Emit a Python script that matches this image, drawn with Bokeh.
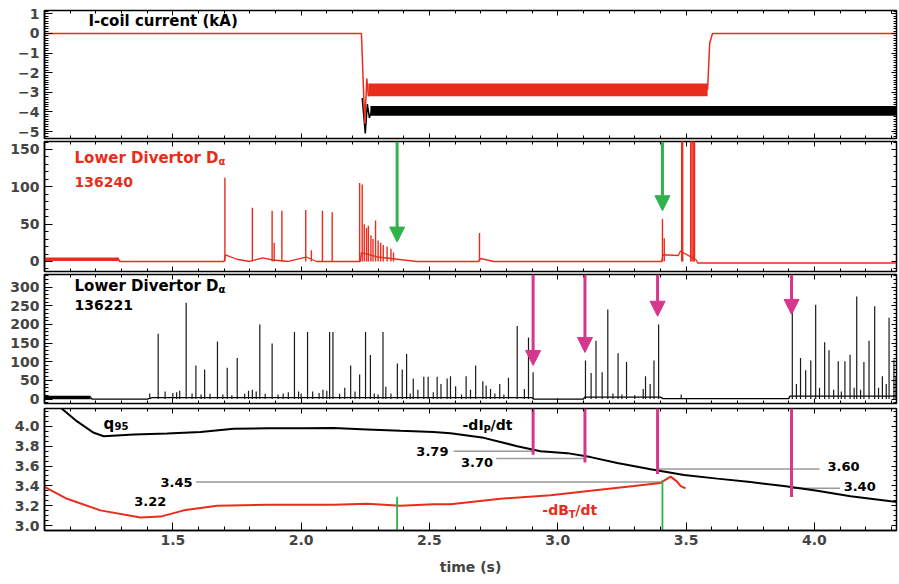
from bokeh.plotting import figure
from bokeh.layouts import column
from bokeh.models import (Range1d, LinearAxis, SingleIntervalTicker, FixedTicker,
                          ColumnDataSource, Arrow, NormalHead, PrintfTickFormatter,
                          CustomJSTickFormatter, Grid)
from bokeh.core.properties import value
from bokeh.embed import file_html
from bokeh.resources import INLINE

# ---------------- data ----------------
x_ticks = [1.5, 2.0, 2.5, 3.0, 3.5, 4.0]
x_minor = [1.1, 1.2, 1.3, 1.4, 1.6, 1.7, 1.8, 1.9, 2.1, 2.2, 2.3, 2.4, 2.6, 2.7, 2.8, 2.9,
           3.1, 3.2, 3.3, 3.4, 3.6, 3.7, 3.8, 3.9, 4.1, 4.2, 4.3]

# panel 1: I-coil current (kA)
icoil_red_t = [1.0, 2.235, 2.248, 2.256, 2.262, 2.27, 3.584, 3.592, 3.603, 4.32]
icoil_red_v = [0, 0, -4.6, -2.3, -3.2, -2.85, -2.85, -0.5, 0, 0]
icoil_red_band_t = [2.262, 3.584]
icoil_red_band_hi = [-2.55, -2.55]
icoil_red_band_lo = [-3.2, -3.2]
icoil_blk_t = [2.238, 2.25, 2.258, 2.266, 2.275, 4.32]
icoil_blk_v = [-3.3, -5.1, -3.6, -4.3, -3.95, -3.95]
icoil_blk_band_t = [2.27, 4.32]
icoil_blk_band_hi = [-3.7, -3.7]
icoil_blk_band_lo = [-4.2, -4.2]

# panel 2: lower divertor D-alpha, shot 136240
da1_noise_t = [1.0, 1.29]
da1_noise_v = [3, 3]
da1_base_t = [1.29, 1.292, 1.70, 1.705, 1.75, 1.80, 1.85, 1.89, 1.95, 2.02, 2.06, 2.23, 2.235,
              2.30, 2.40, 2.45, 2.69, 2.70, 2.75, 3.405, 3.41, 3.47, 3.478, 3.54, 3.545, 4.32]
da1_base_v = [3, 0, 0, 9, 3, 0, 5, 2, 0, 6, 0, 0, 12, 6, 2, 0, 0, 4, 0, 0, 9, 8, 14, 2, -2, -2]
da1_spk_t = [1.703, 1.81, 1.887, 1.895, 1.925, 2.018, 2.04, 2.083, 2.121, 2.228, 2.238,
             2.246, 2.255, 2.262, 2.272, 2.28, 2.29, 2.30, 2.31, 2.32, 2.335, 2.35, 2.36,
             2.695, 3.408, 3.415, 3.483, 3.487, 3.518, 3.523, 3.528, 3.533]
da1_spk_h = [112, 72, 68, 25, 68, 69, 15, 68, 66, 105, 103, 50, 45, 48, 35, 30, 55, 28,
             25, 22, 20, 17, 12, 38, 57, 31, 170, 170, 170, 170, 170, 170]

# panel 3: lower divertor D-alpha, shot 136221
da2_noise_t = [1.0, 1.18]
da2_noise_v = [4, 4]
da2_base_t = [1.18, 1.185, 1.40, 1.42, 2.90, 2.905, 3.10, 3.105, 3.40, 3.41, 3.90, 3.905, 4.32]
da2_base_v = [4, 0, 0, 4, 4, 0, 0, 5, 5, 1, 1, 8, 8]
da2_spk_t = [1.41, 1.443, 1.47, 1.50, 1.515, 1.527, 1.552, 1.575, 1.59, 1.61, 1.624, 1.645,
             1.674, 1.695, 1.712, 1.73, 1.751, 1.78, 1.795, 1.81, 1.825, 1.839, 1.86, 1.887,
             1.91, 1.93, 1.95, 1.974, 1.99, 2.0, 2.025, 2.045, 2.07, 2.085, 2.1, 2.111, 2.124,
             2.15, 2.17, 2.193, 2.21, 2.228, 2.251, 2.27, 2.285, 2.30, 2.319, 2.33, 2.35,
             2.375, 2.394, 2.411, 2.425, 2.437, 2.455, 2.478, 2.495, 2.515, 2.53, 2.545,
             2.569, 2.582, 2.602, 2.625, 2.643, 2.66, 2.68, 2.708, 2.721, 2.738, 2.755,
             2.774, 2.79, 2.808, 2.842, 2.87, 2.886, 2.904, 3.108, 3.13, 3.149, 3.173, 3.195,
             3.215, 3.235, 3.25, 3.268, 3.30, 3.333, 3.342, 3.36, 3.375, 3.393, 3.481, 3.914,
             3.93, 3.946, 3.966, 3.986, 4.005, 4.02, 4.04, 4.057, 4.075, 4.093, 4.105, 4.119,
             4.139, 4.155, 4.165, 4.18, 4.193, 4.213, 4.235, 4.25, 4.265, 4.28, 4.291, 4.31,
             4.318]
da2_spk_h = [15, 175, 20, 16, 18, 22, 258, 15, 90, 12, 79, 14,
             154, 12, 84, 10, 110, 14, 22, 25, 20, 200, 14, 149,
             12, 15, 18, 180, 20, 15, 180, 20, 16, 25, 22, 180, 180,
             14, 30, 90, 20, 66, 180, 118, 15, 12, 180, 33, 15,
             95, 79, 121, 15, 55, 25, 60, 60, 18, 60, 40,
             55, 61, 34, 12, 61, 25, 90, 48, 36, 27, 15,
             40, 12, 57, 196, 27, 165, 72, 103, 70, 156, 72, 240,
             15, 123, 12, 99, 10, 27, 61, 40, 103, 200, 12, 240,
             40, 110, 77, 103, 253, 30, 152, 131, 25, 101, 20, 101,
             119, 30, 275, 25, 99, 156, 249, 30, 61, 40, 218, 106,
             60]

# panel 4: q95 and -dBT/dt
q95_t = [1.062, 1.127, 1.192, 1.231, 1.348, 1.478, 1.608, 1.737, 1.868, 1.998, 2.127, 2.257,
         2.387, 2.516, 2.582, 2.712, 2.842, 2.933, 3.037, 3.128, 3.232, 3.362, 3.492, 3.622,
         3.751, 3.881, 4.011, 4.141, 4.323]
q95_v = [4.19, 4.05, 3.935, 3.90, 3.918, 3.929, 3.942, 3.976, 3.98, 3.98, 3.983, 3.969,
         3.955, 3.942, 3.93, 3.884, 3.80, 3.748, 3.73, 3.69, 3.63, 3.568, 3.51, 3.473,
         3.439, 3.398, 3.35, 3.296, 3.238]
bt_t = [1.0, 1.088, 1.218, 1.374, 1.452, 1.543, 1.673, 1.868, 2.127, 2.257, 2.387, 2.516,
        2.582, 2.777, 2.972, 3.128, 3.297, 3.40, 3.44, 3.466, 3.478, 3.498]
bt_v = [3.39, 3.27, 3.153, 3.08, 3.09, 3.153, 3.20, 3.21, 3.21, 3.22, 3.20, 3.215,
        3.214, 3.27, 3.306, 3.35, 3.398, 3.43, 3.493, 3.44, 3.40, 3.374]

# event times (green: shot 136240, magenta: shot 136221)
green_t = [2.374, 3.408]
green_tip = [26, 68]
green_q = [3.29, 3.46]
mag_t = [2.904, 3.106, 3.389, 3.911]
mag_tip = [90, 125, 222, 227]
mag_q = [3.714, 3.636, 3.52, 3.289]

# reference levels
ref_t0 = [2.594, 2.76, 1.59, 3.39, 3.91]
ref_t1 = [2.906, 3.106, 3.40, 4.02, 4.10]
ref_v = [3.75, 3.675, 3.44, 3.57, 3.375]
lab_r_t = [2.574, 2.748, 1.577, 1.475]
lab_r_v = [3.748, 3.635, 3.432, 3.238]
lab_r_txt = ["3.79", "3.70", "3.45", "3.22"]
lab_l_t = [4.051, 4.114]
lab_l_v = [3.595, 3.398]
lab_l_txt = ["3.60", "3.40"]

# ---------------- style ----------------
RED = "#ea2c1c"
GREEN = "#2fb34c"
MAGENTA = "#d6368c"
FONT = "DejaVu Sans"
W = 899
X0, X1 = 1.0, 4.32
xr = Range1d(X0, X1)
BLANK = CustomJSTickFormatter(code="return ''")


def style_left_axis(ax, size="14px"):
    ax.major_tick_in = 8
    ax.major_tick_out = 0
    ax.minor_tick_in = 4
    ax.minor_tick_out = 0
    ax.axis_line_width = 1.5
    ax.major_label_text_font = FONT
    ax.major_label_text_font_style = "bold"
    ax.major_label_text_font_size = size
    ax.major_label_standoff = 5


def tick_axis(ticker):
    return LinearAxis(ticker=ticker, formatter=BLANK, major_label_text_font_size="1px",
                      major_tick_in=5, major_tick_out=0, minor_tick_in=3, minor_tick_out=0,
                      major_label_standoff=0, axis_line_color=None)


def make_fig(h, y0, y1, bt, bb, yticker, fmt=None, xlabels=False):
    p = figure(width=W, height=h, x_range=xr, y_range=Range1d(y0, y1),
               output_backend="svg", toolbar_location=None,
               x_axis_location=None, y_axis_location=None,
               min_border_left=44, min_border_right=3,
               min_border_top=bt, min_border_bottom=bb)
    p.outline_line_color = "black"
    p.outline_line_width = 1.5
    p.background_fill_color = "white"
    p.border_fill_color = "white"
    ya = LinearAxis(ticker=yticker)
    if fmt:
        ya.formatter = PrintfTickFormatter(format=fmt)
    style_left_axis(ya)
    p.add_layout(ya, "left")
    p.add_layout(tick_axis(yticker), "right")
    xt = FixedTicker(ticks=x_ticks, minor_ticks=x_minor)
    p.add_layout(tick_axis(xt), "above")
    if xlabels:
        xa = LinearAxis(ticker=xt, formatter=PrintfTickFormatter(format="%.1f"))
        style_left_axis(xa)
        xa.major_label_standoff = 4
        xa.axis_label = "time (s)"
        xa.axis_label_text_font = FONT
        xa.axis_label_text_font_style = "bold"
        xa.axis_label_text_font_size = "14px"
        xa.axis_label_standoff = 11
        p.add_layout(xa, "below")
    else:
        p.add_layout(tick_axis(xt), "below")
    # no grid lines in the reference
    for r in list(p.center):
        if isinstance(r, Grid):
            r.visible = False
    return p


def txt(p, x, y, s, color="black", size="14px", align="left", xo=0, yo=0):
    p.text(x=[x], y=[y], text=[s], text_color=color, text_font=value(FONT),
           text_font_style="bold", text_font_size=size, text_align=align,
           text_baseline="middle", x_offset=xo, y_offset=yo)


# ---------------- panel 1 ----------------
p1 = make_fig(140, -5.357, 1.173, 10, 2, SingleIntervalTicker(interval=1, num_minor_ticks=8))
p1.varea(x=icoil_blk_band_t, y1=icoil_blk_band_lo, y2=icoil_blk_band_hi, fill_color="black")
p1.line(icoil_blk_t, icoil_blk_v, line_color="black", line_width=1.5)
p1.varea(x=icoil_red_band_t, y1=icoil_red_band_lo, y2=icoil_red_band_hi, fill_color=RED)
p1.line(icoil_red_t, icoil_red_v, line_color=RED, line_width=1.5)
txt(p1, 1.171, 0.66, "I-coil current (kA)", size="15px")

# ---------------- panel 2 ----------------
p2 = make_fig(133, -13.4, 160.7, 1, 2, SingleIntervalTicker(interval=50, num_minor_ticks=5))
p2.line(da1_noise_t, da1_noise_v, line_color=RED, line_width=3.5)
p2.line(da1_base_t, da1_base_v, line_color=RED, line_width=1.3)
p2.segment(x0=da1_spk_t, y0=[0] * len(da1_spk_t), x1=da1_spk_t, y1=da1_spk_h,
           line_color=RED, line_width=1.4)
p2.add_layout(Arrow(end=NormalHead(size=15, fill_color=GREEN, line_color=GREEN),
                    source=ColumnDataSource(dict(x0=green_t, y0=[160.7] * 2, x1=green_t, y1=green_tip)),
                    x_start="x0", y_start="y0", x_end="x1", y_end="y1",
                    line_color=GREEN, line_width=3))
txt(p2, 1.117, 139, "Lower Divertor D", color=RED, size="15px")
txt(p2, 1.117, 139, "\u03b1", color=RED, size="10px", xo=144, yo=4)
txt(p2, 1.117, 107, "136240", color=RED, size="14px")

# ---------------- panel 3 ----------------
p3 = make_fig(134, -12, 334, 1, 4, SingleIntervalTicker(interval=50, num_minor_ticks=5))
p3.line(da2_noise_t, da2_noise_v, line_color="black", line_width=3.5)
p3.line(da2_base_t, da2_base_v, line_color="black", line_width=1.3)
p3.segment(x0=da2_spk_t, y0=[0] * len(da2_spk_t), x1=da2_spk_t, y1=da2_spk_h,
           line_color="#1a1a1a", line_width=1.2)
p3.add_layout(Arrow(end=NormalHead(size=15, fill_color=MAGENTA, line_color=MAGENTA),
                    source=ColumnDataSource(dict(x0=mag_t, y0=[334] * 4, x1=mag_t, y1=mag_tip)),
                    x_start="x0", y_start="y0", x_end="x1", y_end="y1",
                    line_color=MAGENTA, line_width=3))
txt(p3, 1.117, 304, "Lower Divertor D", size="15px")
txt(p3, 1.117, 304, "\u03b1", size="10px", xo=144, yo=4)
txt(p3, 1.117, 251, "136221", size="14px")

# ---------------- panel 4 ----------------
p4 = make_fig(177, 2.95, 4.18, 1, 54, SingleIntervalTicker(interval=0.2, num_minor_ticks=4),
              fmt="%.1f", xlabels=True)
p4.segment(x0=ref_t0, y0=ref_v, x1=ref_t1, y1=ref_v, line_color="#9a9a9a", line_width=1.5)
p4.line(q95_t, q95_v, line_color="black", line_width=2)
p4.line(bt_t, bt_v, line_color=RED, line_width=2)
p4.segment(x0=green_t, y0=[2.95] * 2, x1=green_t, y1=green_q, line_color=GREEN, line_width=1.8)
p4.segment(x0=mag_t, y0=[4.18] * 4, x1=mag_t, y1=mag_q, line_color=MAGENTA, line_width=3)
p4.text(x=lab_r_t, y=lab_r_v, text=lab_r_txt, text_font=value(FONT), text_font_style="bold",
        text_font_size="13px", text_align="right", text_baseline="middle", text_color="black")
p4.text(x=lab_l_t, y=lab_l_v, text=lab_l_txt, text_font=value(FONT), text_font_style="bold",
        text_font_size="13px", text_align="left", text_baseline="middle", text_color="black")
txt(p4, 1.23, 4.02, "q", size="15px")
txt(p4, 1.23, 4.02, "95", size="10px", xo=11, yo=2)
txt(p4, 2.629, 4.01, "-dI", size="14px")
txt(p4, 2.629, 4.01, "P", size="10px", xo=21, yo=4)
txt(p4, 2.629, 4.01, "/dt", size="14px", xo=28)
txt(p4, 2.94, 3.153, "-dB", color=RED, size="14px")
txt(p4, 2.94, 3.153, "T", color=RED, size="10px", xo=26.5, yo=4)
txt(p4, 2.94, 3.153, "/dt", color=RED, size="14px", xo=33)

layout = column(p1, p2, p3, p4)
open("out.html", "w").write(file_html(layout, INLINE))
